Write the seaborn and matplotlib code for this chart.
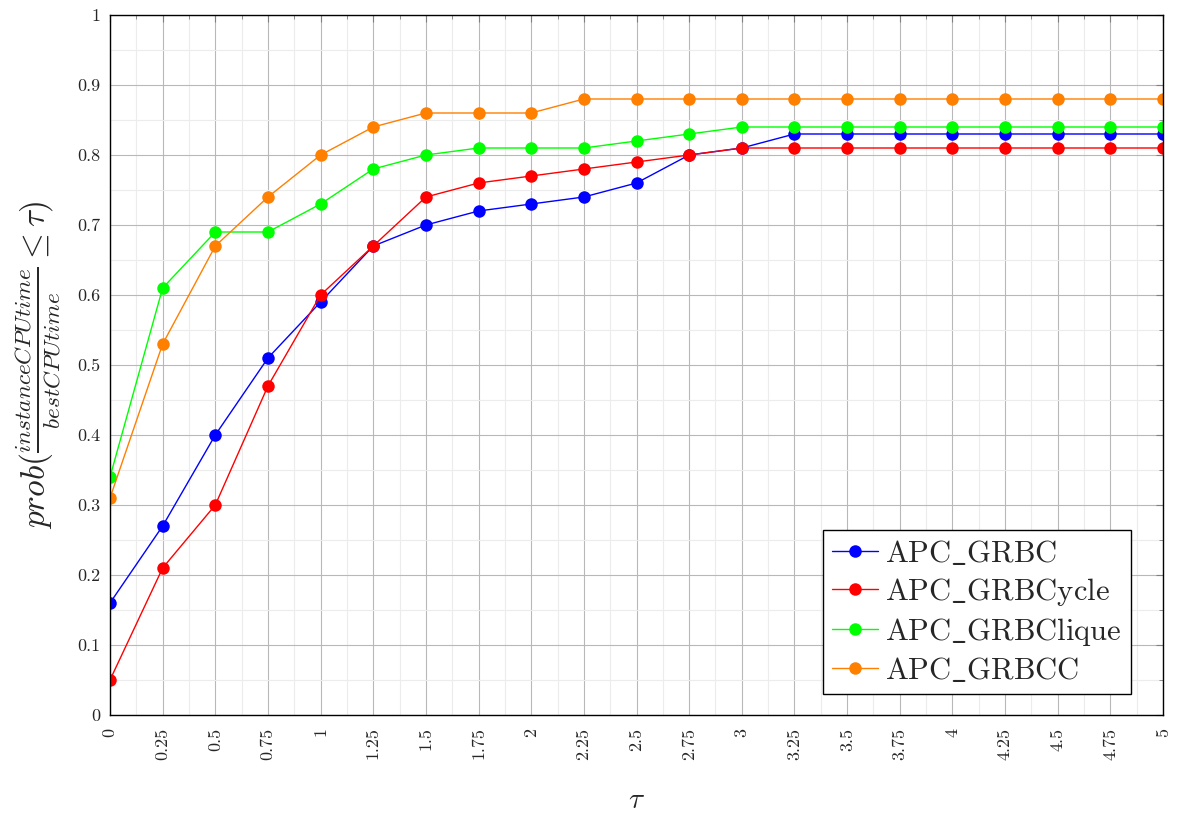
import pandas as pd
import numpy as np
import matplotlib.pyplot as plt
import seaborn as sns

# datos
tau = [0, 0.25, 0.5, 0.75, 1, 1.25, 1.5, 1.75, 2, 2.25, 2.5, 2.75, 3, 3.25, 3.5, 3.75, 4, 4.25, 4.5, 4.75, 5]
tick_labels = ["0", "0.25", "0.5", "0.75", "1", "1.25", "1.5", "1.75", "2", "2.25", "2.5", "2.75",
               "3", "3.25", "3.5", "3.75", "4", "4.25", "4.5", "4.75", "5"]
grbc = [0.16, 0.27, 0.40, 0.51, 0.59, 0.67, 0.70, 0.72, 0.73, 0.74, 0.76, 0.80, 0.81, 0.83, 0.83, 0.83, 0.83, 0.83, 0.83, 0.83, 0.83]
grbcycle = [0.05, 0.21, 0.30, 0.47, 0.60, 0.67, 0.74, 0.76, 0.77, 0.78, 0.79, 0.80, 0.81, 0.81, 0.81, 0.81, 0.81, 0.81, 0.81, 0.81, 0.81]
grbclique = [0.34, 0.61, 0.69, 0.69, 0.73, 0.78, 0.80, 0.81, 0.81, 0.81, 0.82, 0.83, 0.84, 0.84, 0.84, 0.84, 0.84, 0.84, 0.84, 0.84, 0.84]
grbcc = [0.31, 0.53, 0.67, 0.74, 0.80, 0.84, 0.86, 0.86, 0.86, 0.88, 0.88, 0.88, 0.88, 0.88, 0.88, 0.88, 0.88, 0.88, 0.88, 0.88, 0.88]
series = ["APC_GRBC", "APC_GRBCycle", "APC_GRBClique", "APC_GRBCC"]
colores = ["#0000ff", "#ff0000", "#00ff00", "#ff7f00"]

df = pd.DataFrame({
    "tau": tau * 4,
    "prob": grbc + grbcycle + grbclique + grbcc,
    "serie": [s for s in series for _ in tau],
})

sns.set_style("white")
plt.rcParams["mathtext.fontset"] = "cm"
plt.rcParams["font.family"] = "serif"
plt.rcParams["font.serif"] = ["cmr10", "DejaVu Serif"]
plt.rcParams["axes.formatter.use_mathtext"] = True

fig, ax = plt.subplots(figsize=(11.77, 8.13), dpi=100)
fig.subplots_adjust(left=110/1177, right=1163/1177, top=1-15/813, bottom=1-715/813)

sns.lineplot(data=df, x="tau", y="prob", hue="serie", hue_order=series, palette=colores,
             marker="o", markersize=9, markeredgewidth=0, linewidth=1, ax=ax, legend=False)

ax.set_xlim(0, 5)
ax.set_ylim(0, 1)
ax.set_xticks(tau)
ax.set_xticklabels(tick_labels, rotation=90, fontsize=13)
ax.set_xticks(np.arange(0.125, 5, 0.25), minor=True)
yt = np.round(np.arange(0, 1.01, 0.1), 1)
ax.set_yticks(yt)
ax.set_yticklabels(["0"] + [f"{v:.1f}" for v in yt[1:-1]] + ["1"], fontsize=13)
ax.set_yticks(np.arange(0.05, 1, 0.1), minor=True)

ax.grid(True, which="major", color="#b8b8b8", linewidth=0.8)
ax.grid(True, which="minor", color="#ececec", linewidth=0.8)
ax.tick_params(which="both", direction="in", top=True, right=True, color="#808080")
ax.tick_params(which="major", length=5)
ax.tick_params(which="minor", length=3)
ax.tick_params(axis="x", which="major", pad=9)
ax.tick_params(axis="y", which="major", pad=7)
for s in ax.spines.values():
    s.set_color("black")
    s.set_linewidth(1)

ax.set_xlabel(r"$\tau$", fontsize=21, labelpad=20)
ax.set_ylabel(r"$prob(\frac{instanceCPUtime}{bestCPUtime} \leq \tau)$", fontsize=24, labelpad=10)

# leyenda
handles = [plt.Line2D([], [], color=c, marker="o", markersize=9, markeredgewidth=0, linewidth=1) for c in colores]
etiquetas = [r"$\mathrm{" + s.replace("_", r"\_") + "}$" for s in series]
leg = ax.legend(handles, etiquetas, loc="lower right", bbox_to_anchor=(0.9696, 0.03), fontsize=22,
                frameon=True, fancybox=False, edgecolor="black", framealpha=1, borderaxespad=0,
                handlelength=1.5, handletextpad=0.25, labelspacing=0.26, borderpad=0.3)
leg.get_frame().set_linewidth(1)

plt.savefig("out.png", dpi=100)
